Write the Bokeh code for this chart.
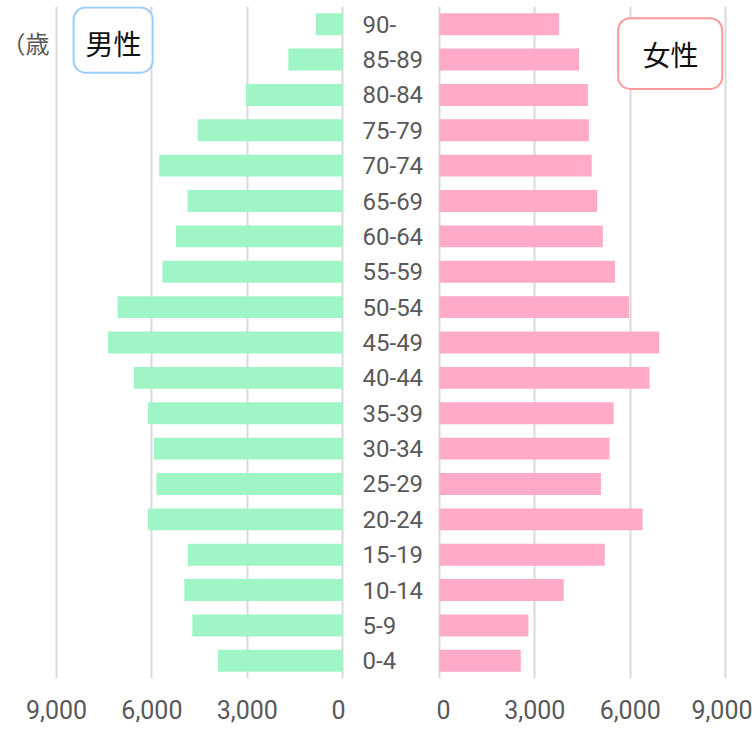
from bokeh.plotting import figure
from bokeh.layouts import row
from bokeh.models import Range1d, FixedTicker, NumeralTickFormatter, Label, BoxAnnotation, ColumnDataSource
from bokeh.core.properties import value
from bokeh.embed import file_html
from bokeh.resources import INLINE

# ---- data (bottom to top) ----
ages = ["0-4", "5-9", "10-14", "15-19", "20-24", "25-29", "30-34", "35-39", "40-44",
        "45-49", "50-54", "55-59", "60-64", "65-69", "70-74", "75-79", "80-84", "85-89", "90-"]
male = [3920, 4730, 4980, 4870, 6120, 5860, 5940, 6120, 6570,
        7380, 7080, 5670, 5240, 4880, 5770, 4560, 3050, 1710, 850]
female = [2560, 2800, 3910, 5200, 6390, 5080, 5350, 5480, 6610,
          6910, 5960, 5520, 5140, 4960, 4790, 4700, 4670, 4390, 3760]
ticks = [0, 3000, 6000, 9000]
male_label = "男性"
female_label = "女性"
unit_label = "（歳"

GREEN = "#9ff5c6"
PINK = "#ffaac8"
GRID = "#d9d9d9"
TICK_FONT = "Roboto"
CJK = "Noto Sans CJK JP"

H = 734
BT = 6
BB = 56

src = ColumnDataSource(dict(age=ages, male=male, female=female))


def style(p):
    p.outline_line_color = None
    p.background_fill_color = "white"
    p.border_fill_color = "white"
    p.ygrid.grid_line_color = None
    p.xgrid.grid_line_color = GRID
    p.xgrid.grid_line_width = 2
    p.xaxis.ticker = FixedTicker(ticks=ticks)
    p.xaxis.formatter = NumeralTickFormatter(format="0,0")
    p.xaxis.axis_line_color = None
    p.xaxis.major_tick_line_color = None
    p.xaxis.minor_tick_line_color = None
    p.xaxis.major_label_text_font = TICK_FONT
    p.xaxis.major_label_text_font_size = "25px"
    p.xaxis.major_label_text_color = "#595959"
    p.xaxis.major_label_standoff = 15


# ---- left (male) ----
pl = figure(width=345, height=H, y_range=ages, x_range=Range1d(10761, -88),
            output_backend="svg", toolbar_location=None, y_axis_location=None,
            min_border_left=0, min_border_right=0, min_border_top=BT, min_border_bottom=BB)
style(pl)
pl.hbar(y="age", left=0, right="male", height=0.62, source=src, fill_color=GREEN, line_color=None)
pl.add_layout(BoxAnnotation(left=8462, right=5978, top=18.97, bottom=17.13,
                            fill_color="white", fill_alpha=1.0, line_color="#99ccff", line_alpha=1.0,
                            line_width=2, border_radius=12, level="overlay"))
pl.add_layout(Label(x=7204, y=17.98, text=male_label, text_align="center", text_baseline="middle",
                    text_font=CJK, text_font_size="28px", text_color="#111111", level="overlay"))
pl.add_layout(Label(x=10730, y=17.98, text=unit_label, text_align="left", text_baseline="middle",
                    text_font=CJK, text_font_size="24px", text_color="#595959", level="overlay"))

# ---- middle (labels) ----
pm = figure(width=91, height=H, y_range=ages, x_range=Range1d(0, 1),
            output_backend="svg", toolbar_location=None, x_axis_location=None, y_axis_location=None,
            min_border_left=0, min_border_right=0, min_border_top=BT, min_border_bottom=BB)
pm.outline_line_color = None
pm.xgrid.grid_line_color = None
pm.ygrid.grid_line_color = None
pm.text(x=0.187, y="age", text="age", source=src, text_align="left", text_baseline="middle",
        text_font=value(TICK_FONT), text_font_size="24px", text_color="#595959")

# ---- right (female) ----
pr = figure(width=316, height=H, y_range=ages, x_range=Range1d(-91, 9846),
            output_backend="svg", toolbar_location=None, y_axis_location=None,
            min_border_left=0, min_border_right=0, min_border_top=BT, min_border_bottom=BB)
style(pr)
pr.hbar(y="age", left=0, right="female", height=0.62, source=src, fill_color=PINK, line_color=None)
pr.add_layout(BoxAnnotation(left=5623, right=8893, top=18.67, bottom=16.67,
                            fill_color="white", fill_alpha=1.0, line_color="#ff9999", line_alpha=1.0,
                            line_width=2, border_radius=12, level="overlay"))
pr.add_layout(Label(x=7267, y=17.67, text=female_label, text_align="center", text_baseline="middle",
                    text_font=CJK, text_font_size="28px", text_color="#111111", level="overlay"))

layout = row(pl, pm, pr, spacing=0)
open("out.html", "w").write(file_html(layout, INLINE))
